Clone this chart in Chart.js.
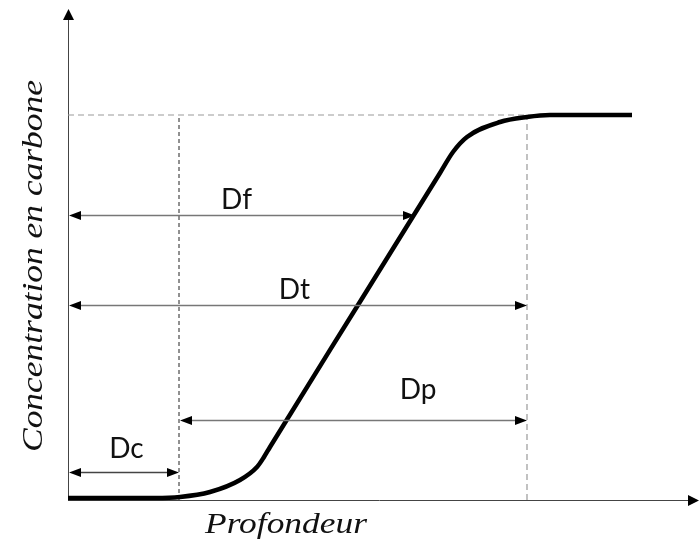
<!DOCTYPE html>
<html>
<head>
<meta charset="utf-8">
<script src="https://cdn.jsdelivr.net/npm/chart.js@4"></script>
<style>
  body { margin: 0; background: #fff; }
  #wrap { width: 699px; height: 544px; position: relative; }
  .pre { position: absolute; left: -9999px; top: 0; }
</style>
</head>
<body>
<span class="pre" style="font: italic 29px 'Liberation Serif', serif;">Profondeur</span>
<span class="pre" style="font: 28px Lato, sans-serif;">Df</span>
<div id="wrap"><canvas id="myChart"></canvas></div>
<script>
// carbon profile, depth vs concentration (arbitrary units)
var depth = [0, 87, 112, 142, 172, 189, 196, 202, 290, 372, 385, 399, 432, 459, 482, 564];
var carbon = [2, 2, 3, 8, 20, 33, 43, 53, 195, 327, 348, 363, 378, 383, 385, 385];

var plateau = 385;
var plateauStart = 482;
var dcDepth = 111;
var dtDepth = 459;

// double arrows
var arrowLabels = ["Dc", "Df", "Dt", "Dp"];
var arrowFrom = [0, 0, 0, 111];
var arrowTo = [111, 347, 459, 459];
var arrowLevel = [28, 285, 195, 80];

var xMax = 631;
var yMax = 490;

// label offsets in px (from arrow middle / arrow line)
var labelDx = [3, -5, -3, 65];
var labelDy = [-15, -7, -7, -22];

var titleFont = "italic 29px 'Liberation Serif', 'Times New Roman', serif";
var labelFont = "28px Lato, 'Open Sans', sans-serif";

function stretchText(ctx, txt, x, y, w) {
    var m = ctx.measureText(txt).width;
    ctx.save();
    ctx.translate(x, y);
    ctx.scale(w / m, 1);
    ctx.fillText(txt, 0, 0);
    ctx.restore();
}

var axesPlugin = {
    id: "axesPlugin",
    beforeDatasetsDraw: function(chart) {
        var ctx = chart.ctx;
        var a = chart.chartArea;
        var y0 = chart.scales.y.getPixelForValue(0);
        var x0 = chart.scales.x.getPixelForValue(0);
        ctx.save();
        ctx.strokeStyle = "#444";
        ctx.lineWidth = 1;
        ctx.beginPath();
        ctx.moveTo(x0 + 0.5, y0);
        ctx.lineTo(x0 + 0.5, a.top + 8);
        ctx.moveTo(x0, y0 + 0.5);
        ctx.lineTo(a.right - 8, y0 + 0.5);
        ctx.stroke();
        ctx.fillStyle = "#000";
        ctx.beginPath();
        ctx.moveTo(x0 + 0.5, a.top - 1);
        ctx.lineTo(x0 - 5, a.top + 10);
        ctx.lineTo(x0 + 6, a.top + 10);
        ctx.closePath();
        ctx.fill();
        ctx.beginPath();
        ctx.moveTo(a.right, y0 + 0.5);
        ctx.lineTo(a.right - 11, y0 - 5);
        ctx.lineTo(a.right - 11, y0 + 6);
        ctx.closePath();
        ctx.fill();

        // axis titles
        ctx.fillStyle = "#111";
        ctx.font = titleFont;
        ctx.textAlign = "center";
        ctx.textBaseline = "alphabetic";
        stretchText(ctx, "Profondeur", 286, 533, 162);
        ctx.translate(42, 266);
        ctx.rotate(-Math.PI / 2);
        stretchText(ctx, "Concentration en carbone", 0, 0, 372);
        ctx.restore();
    },
    afterDatasetsDraw: function(chart) {
        var ctx = chart.ctx;
        var sx = chart.scales.x, sy = chart.scales.y;
        ctx.save();
        for (var i = 0; i < arrowLabels.length; i++) {
            var xa = sx.getPixelForValue(arrowFrom[i]);
            var xb = sx.getPixelForValue(arrowTo[i]);
            var y = Math.round(sy.getPixelForValue(arrowLevel[i])) + 0.5;
            ctx.strokeStyle = i == 0 ? "#444" : "#777";
            ctx.lineWidth = 1.3;
            ctx.beginPath();
            ctx.moveTo(xa + 6, y);
            ctx.lineTo(xb - 6, y);
            ctx.stroke();
            ctx.fillStyle = "#000";
            ctx.beginPath();
            ctx.moveTo(xa + 1, y);
            ctx.lineTo(xa + 13, y - 4.5);
            ctx.lineTo(xa + 13, y + 4.5);
            ctx.closePath();
            ctx.fill();
            ctx.beginPath();
            ctx.moveTo(xb, y);
            ctx.lineTo(xb - 12, y - 4.5);
            ctx.lineTo(xb - 12, y + 4.5);
            ctx.closePath();
            ctx.fill();

            ctx.fillStyle = "#111";
            ctx.font = labelFont;
            ctx.textAlign = "center";
            ctx.textBaseline = "alphabetic";
            ctx.fillText(arrowLabels[i], (xa + xb) / 2 + labelDx[i], y + labelDy[i]);
        }
        ctx.restore();
    }
};

function makeChart() {
    var cx = document.getElementById("myChart");
    var myChart = new Chart(cx, {
        type: "scatter",
        data: {
            datasets: [{
                label: "Carbone",
                data: depth.map(function(d, i) { return {x: d, y: carbon[i]}; }),
                showLine: true,
                borderColor: "#000",
                borderWidth: 4.5,
                pointRadius: 0,
                cubicInterpolationMode: "monotone",
                borderCapStyle: "butt"
            }, {
                label: "plateau",
                data: [{x: 0, y: plateau}, {x: plateauStart, y: plateau}],
                showLine: true,
                borderColor: "#999",
                borderWidth: 1.2,
                borderDash: [6, 4],
                pointRadius: 0
            }, {
                label: "Dc",
                data: [{x: dcDepth, y: 0}, {x: dcDepth, y: plateau}],
                showLine: true,
                borderColor: "#222",
                borderWidth: 1,
                borderDash: [4, 3],
                pointRadius: 0
            }, {
                label: "Dt",
                data: [{x: dtDepth, y: 0}, {x: dtDepth, y: plateau}],
                showLine: true,
                borderColor: "#999",
                borderWidth: 1.2,
                borderDash: [6, 4],
                pointRadius: 0
            }]
        },
        options: {
            responsive: true,
            maintainAspectRatio: false,
            animation: false,
            clip: false,
            layout: { padding: { left: 68, right: 0, top: 10, bottom: 44 } },
            plugins: { legend: { display: false }, tooltip: { enabled: false } },
            scales: {
                x: { type: "linear", min: 0, max: xMax, display: false },
                y: { type: "linear", min: 0, max: yMax, display: false }
            }
        },
        plugins: [axesPlugin]
    });
}

Promise.all([
    document.fonts.load(titleFont, "Profondeur"),
    document.fonts.load(labelFont, "Df")
]).then(makeChart, makeChart);
</script>
</body>
</html>
